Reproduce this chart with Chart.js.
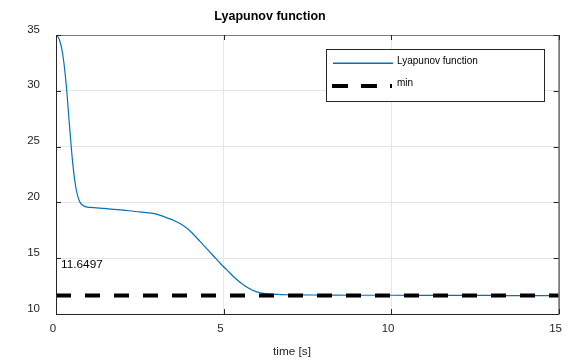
<!DOCTYPE html>
<html>
<head>
<meta charset="utf-8">
<script src="https://cdn.jsdelivr.net/npm/chart.js@4.4.1/dist/chart.umd.min.js"></script>
<style>
  html, body { margin: 0; padding: 0; background: #fff; }
  #wrap { width: 573px; height: 363px; position: relative; }
</style>
</head>
<body>
<div id="wrap"><canvas id="c" width="573" height="363"></canvas></div>
<script>
// ---- data ----
const timeValues = [0, 0.1, 0.2, 0.3, 0.4, 0.5, 0.6, 0.7, 0.8, 0.9, 1.0, 1.5, 2.0, 2.5, 3.0, 3.2, 3.5, 3.7, 3.9, 4.1, 4.3, 4.5, 4.7, 4.9, 5.1, 5.35, 5.6, 5.85, 6.1, 6.6, 7, 8, 9, 10, 11, 12, 13, 14, 15];
const lyapunovValues = [35, 34.6, 33.3, 30.7, 27.0, 23.5, 21.2, 20.1, 19.75, 19.6, 19.55, 19.45, 19.3, 19.15, 18.95, 18.75, 18.4, 18.1, 17.7, 17.15, 16.5, 15.85, 15.2, 14.55, 13.95, 13.2, 12.6, 12.15, 11.9, 11.75, 11.72, 11.7, 11.68, 11.68, 11.67, 11.66, 11.66, 11.65, 11.65];
const minValue = 11.6497;
const minTimes = [0, 15];
const xTicks = [0, 5, 10, 15];
const yTicks = [10, 15, 20, 25, 30, 35];
const chartTitle = 'Lyapunov function';
const xLabel = 'time [s]';
const seriesNames = ['Lyapunov function', 'min'];
const annotationText = '11.6497';
const annotationPos = { t: 0.15, v: 14.4 };

const lyapData = timeValues.map((t, i) => ({ x: t, y: lyapunovValues[i] }));
const minData = minTimes.map(t => ({ x: t, y: minValue }));

const FONT = '"Liberation Sans", Arial, Helvetica, sans-serif';
const AX = '#262626';

const decor = {
  id: 'decor',
  afterDraw(chart) {
    const ctx = chart.ctx;
    const a = chart.chartArea;
    const xs = chart.scales.x, ys = chart.scales.y;
    ctx.save();
    // box
    ctx.lineWidth = 1;
    ctx.strokeStyle = '#7a7a7a';
    ctx.beginPath(); ctx.moveTo(a.left, a.top + 0.5); ctx.lineTo(a.right, a.top + 0.5); ctx.stroke();
    ctx.strokeStyle = AX;
    ctx.beginPath();
    ctx.moveTo(a.left + 0.5, a.top); ctx.lineTo(a.left + 0.5, a.bottom + 0.5);
    ctx.lineTo(a.right + 0.5, a.bottom + 0.5); ctx.lineTo(a.right + 0.5, a.top);
    ctx.stroke();
    // inward ticks
    const tl = 5;
    ctx.beginPath();
    xTicks.forEach(v => {
      const px = Math.round(xs.getPixelForValue(v)) + 0.5;
      ctx.moveTo(px, a.bottom); ctx.lineTo(px, a.bottom - tl);
      ctx.moveTo(px, a.top); ctx.lineTo(px, a.top + tl);
    });
    yTicks.forEach(v => {
      const py = Math.round(ys.getPixelForValue(v)) + 0.5;
      ctx.moveTo(a.left, py); ctx.lineTo(a.left + tl, py);
      ctx.moveTo(a.right, py); ctx.lineTo(a.right - tl, py);
    });
    ctx.stroke();

    // title
    ctx.fillStyle = '#000';
    ctx.font = 'bold 12.5px ' + FONT;
    ctx.textAlign = 'center'; ctx.textBaseline = 'middle';
    ctx.fillText(chartTitle, 270, 16.5);
    // x label
    ctx.fillStyle = AX;
    ctx.font = '11.8px ' + FONT;
    ctx.fillText(xLabel, 292, 352);
    // annotation
    ctx.fillStyle = '#000';
    ctx.font = '11.8px ' + FONT;
    ctx.textAlign = 'left';
    ctx.fillText(annotationText, xs.getPixelForValue(annotationPos.t), ys.getPixelForValue(annotationPos.v));

    // legend
    const lx = 326.5, ly = 49.5, lw = 218, lh = 52;
    ctx.fillStyle = '#fff';
    ctx.fillRect(lx, ly, lw, lh);
    ctx.strokeStyle = AX; ctx.lineWidth = 1;
    ctx.strokeRect(lx, ly, lw, lh);
    ctx.strokeStyle = '#0072BD'; ctx.lineWidth = 1.5;
    ctx.beginPath(); ctx.moveTo(333, 63.3); ctx.lineTo(393, 63.3); ctx.stroke();
    ctx.strokeStyle = '#000'; ctx.lineWidth = 4; ctx.setLineDash([16, 13]);
    ctx.beginPath(); ctx.moveTo(332, 86); ctx.lineTo(392, 86); ctx.stroke();
    ctx.setLineDash([]);
    ctx.fillStyle = '#000';
    ctx.font = '10px ' + FONT;
    ctx.textAlign = 'left'; ctx.textBaseline = 'middle';
    ctx.fillText(seriesNames[0], 397, 61.5);
    ctx.fillText(seriesNames[1], 397, 83.5);
    ctx.restore();
  }
};

new Chart(document.getElementById('c'), {
  type: 'line',
  data: {
    datasets: [
      {
        label: seriesNames[0],
        data: lyapData,
        borderColor: '#0072BD',
        borderWidth: 1.2,
        pointRadius: 0,
        cubicInterpolationMode: 'monotone',
        fill: false,
        order: 1
      },
      {
        label: seriesNames[1],
        data: minData,
        borderColor: '#000',
        borderWidth: 4,
        borderDash: [15, 14],
        borderDashOffset: 0,
        pointRadius: 0,
        fill: false,
        order: 0
      }
    ]
  },
  plugins: [decor],
  options: {
    responsive: false,
    animation: false,
    layout: { padding: { left: 0, right: 14, top: 35, bottom: 0 } },
    plugins: { legend: { display: false }, title: { display: false }, tooltip: { enabled: false } },
    scales: {
      x: {
        type: 'linear', min: 0, max: 15,
        afterFit(s) { s.height = 49; },
        afterBuildTicks(s) { s.ticks = xTicks.map(v => ({ value: v })); },
        grid: { color: '#e6e6e6', drawTicks: false },
        border: { display: false },
        ticks: { padding: 8, labelOffset: -3, color: AX, font: { family: FONT, size: 11.5 }, maxRotation: 0 }
      },
      y: {
        type: 'linear', min: 10, max: 35,
        afterFit(s) { s.width = 56; },
        afterBuildTicks(s) { s.ticks = yTicks.map(v => ({ value: v })); },
        grid: { color: '#e6e6e6', drawTicks: false },
        border: { display: false },
        ticks: { padding: 16, labelOffset: -5.5, color: AX, font: { family: FONT, size: 11.5 } }
      }
    }
  }
});
</script>
</body>
</html>
